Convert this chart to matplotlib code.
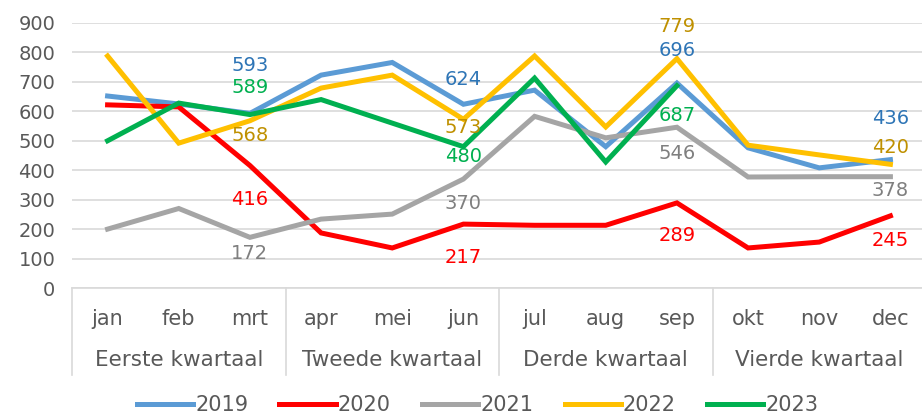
import matplotlib.pyplot as plt
from matplotlib.lines import Line2D

# data
maanden = ["jan", "feb", "mrt", "apr", "mei", "jun", "jul", "aug", "sep", "okt", "nov", "dec"]
kwartalen = ["Eerste kwartaal", "Tweede kwartaal", "Derde kwartaal", "Vierde kwartaal"]
jaren = ["2019", "2020", "2021", "2022", "2023"]

v2019 = [652, 625, 593, 723, 766, 624, 672, 480, 696, 476, 408, 436]
v2020 = [622, 615, 416, 187, 136, 217, 213, 213, 289, 136, 156, 245]
v2021 = [200, 270, 172, 234, 251, 370, 583, 510, 546, 377, 378, 378]
v2022 = [788, 492, 568, 679, 723, 573, 788, 547, 779, 485, 452, 420]
v2023 = [500, 628, 589, 640, 560, 480, 713, 428, 687]

reeksen = [v2019, v2020, v2021, v2022, v2023]
lijnkleur = ["#5B9BD5", "#FF0000", "#A5A5A5", "#FFC000", "#00B050"]
labelkleur = ["#2E75B6", "#FF0000", "#7F7F7F", "#BF9000", "#00B050"]

# label verschuiving (pixels) per reeks voor mrt, jun, sep, dec
label_idx = [2, 5, 8, 11]
verschuiving = {
    0: [48, 25, 33, 41],
    1: [-34, -33, -33, -25],
    2: [-16, -24, -26, -14],
    3: [-15, -8, 32, 17],
    4: [27, -10, -30, None],
}

plt.rcParams['font.family'] = ['DejaVu Sans']
fig = plt.figure(figsize=(9.22, 4.16), dpi=100)
ax = fig.add_axes([72/922, 1-288/416, 854/922, 265/416])

x = list(range(12))
for i, reeks in enumerate(reeksen):
    ax.plot(x[:len(reeks)], reeks, color=lijnkleur[i], lw=3.6, solid_joinstyle='miter', zorder=3)
    for k, idx in enumerate(label_idx):
        if idx >= len(reeks) or verschuiving[i][k] is None:
            continue
        ax.annotate(str(reeks[idx]), (idx, reeks[idx]), xytext=(0, verschuiving[i][k]*0.72),
                    textcoords='offset points', ha='center', va='center',
                    color=labelkleur[i], fontsize=14, zorder=4)

ax.set_xlim(-0.5, 11.5)
ax.set_ylim(0, 900)
ax.set_yticks(range(0, 901, 100))
ax.grid(axis='y', color='#D9D9D9', lw=1.2)
ax.set_axisbelow(True)
for s in ['top', 'right', 'left']:
    ax.spines[s].set_visible(False)
ax.spines['bottom'].set_color('#D9D9D9')
ax.spines['bottom'].set_linewidth(1.2)
ax.tick_params(axis='y', length=0, labelsize=14, labelcolor='#595959', pad=12)
ax.tick_params(axis='x', length=0, labelsize=15, labelcolor='#595959', pad=15)
ax.set_xticks(x)
ax.set_xticklabels(maanden)

tr = ax.get_xaxis_transform()
for q, naam in enumerate(kwartalen):
    ax.text(3*q + 1, -0.272, naam, transform=tr, ha='center', va='center',
            fontsize=15.5, color='#595959')
for q in range(5):
    ax.plot([3*q - 0.5, 3*q - 0.5], [0, -0.33], transform=tr, color='#D9D9D9',
            lw=1.2, clip_on=False)

handles = [Line2D([], [], color=c, lw=3.6) for c in lijnkleur]
fig.legend(handles, jaren, loc='center', bbox_to_anchor=(0.518, 11/416), ncol=5,
           frameon=False, fontsize=15, handlelength=2.7, handletextpad=0.1,
           columnspacing=1.5, labelcolor='#595959')

fig.savefig("out.png", dpi=100)
